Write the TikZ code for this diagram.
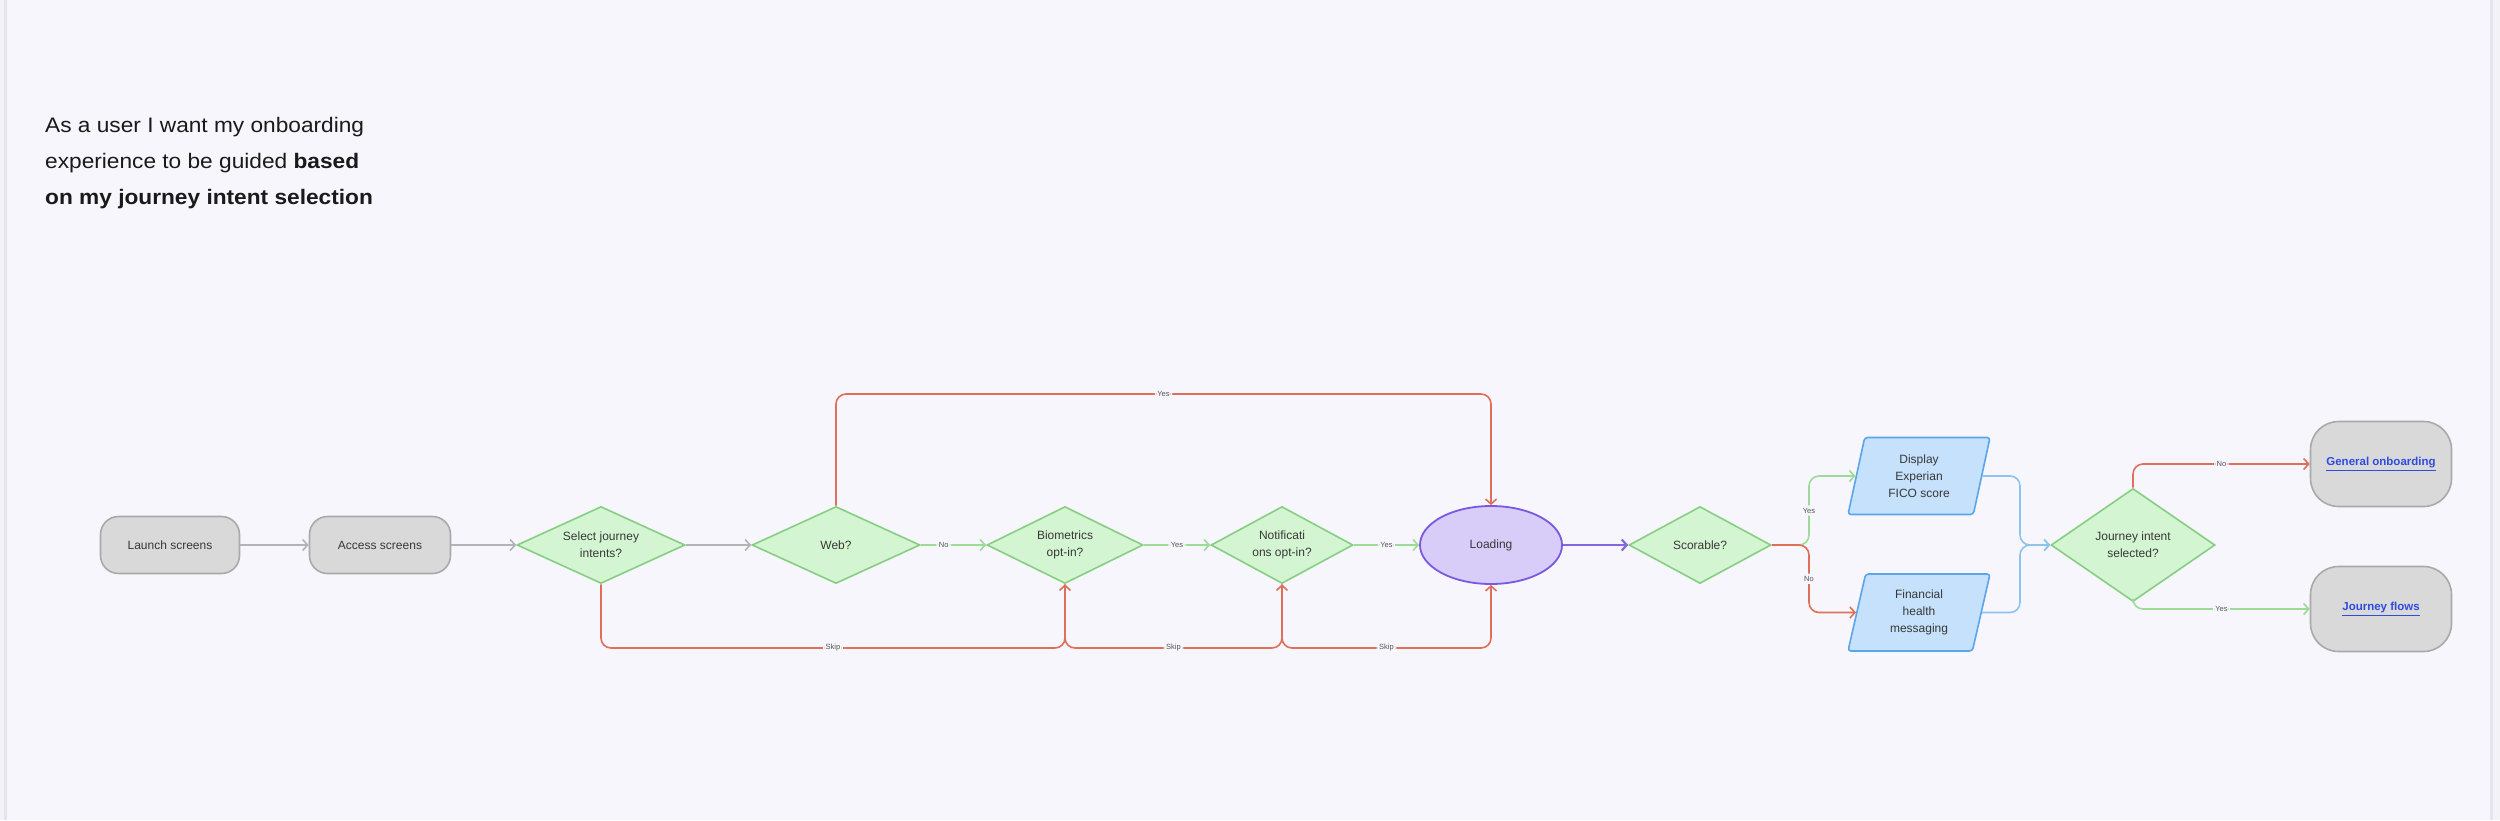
\documentclass[tikz,border=0pt]{standalone}
\usepackage{fontspec}
\setmainfont{Liberation Sans}
\newfontfamily\titlefont{Liberation Sans}[FakeStretch=1.08]
\usetikzlibrary{shapes.geometric,arrows.meta,calc}
\definecolor{bg}{HTML}{F7F6FC}
\definecolor{outbg}{HTML}{F3F3F7}
\definecolor{framecol}{HTML}{E6E4F0}
\definecolor{txt}{HTML}{383838}
\definecolor{titletxt}{HTML}{1A1A1A}
\definecolor{labtxt}{HTML}{555555}
\definecolor{termfill}{HTML}{D9D9D9}
\definecolor{termline}{HTML}{A9A9A9}
\definecolor{decfill}{HTML}{D4F5D2}
\definecolor{decline}{HTML}{86CE82}
\definecolor{loadfill}{HTML}{D8CCF9}
\definecolor{loadline}{HTML}{7B58E0}
\definecolor{iofill}{HTML}{C5E1FB}
\definecolor{ioline}{HTML}{5AA6E8}
\definecolor{cgray}{HTML}{B3B3B6}
\definecolor{cgreen}{HTML}{9CDA98}
\definecolor{cred}{HTML}{DE6F5A}
\definecolor{cblue}{HTML}{8EC3EE}
\definecolor{cpurple}{HTML}{8468E0}
\definecolor{linkcol}{HTML}{2F4BE0}
\begin{document}
\begin{tikzpicture}[x=1pt,y=-1pt,
  nodefont/.style={font=\fontsize{12}{17}\selectfont, text=txt, align=center},
  term/.style={nodefont, draw=termline, fill=termfill, line width=1.6pt,
    rounded corners=18pt, minimum width=139pt, minimum height=57pt, inner sep=0pt},
  endterm/.style={term, rounded corners=28pt, minimum width=141pt, minimum height=85pt},
  dec/.style={nodefont, diamond, shape aspect=2.2, draw=decline, fill=decfill, line width=1.6pt,
    inner sep=0pt, minimum height=77pt},
  io/.style={nodefont, trapezium, trapezium left angle=68.7, trapezium right angle=111.3,
    trapezium stretches body, minimum width=142pt, minimum height=77pt, inner sep=0pt,
    draw=ioline, fill=iofill, line width=1.6pt, rounded corners=3pt},
  flow/.style={line width=1.6pt, rounded corners=10pt,
    -{Straight Barb[length=5pt,width=11pt]}},
  lab/.style={fill=bg, inner sep=2.5pt, font=\fontsize{7.5}{9}\selectfont, text=labtxt},
  linktext/.style={font=\fontsize{11.5}{14}\selectfont\bfseries, text=linkcol}
]
\useasboundingbox (0,0) rectangle (2500,820);
\fill[outbg] (0,0) rectangle (2500,820);
\fill[bg] (5,0) rectangle (2491,820);
\draw[framecol, line width=3pt] (5.5,0) -- (5.5,820);
\draw[framecol, line width=3pt] (2491,0) -- (2491,820);

\node[anchor=north west, inner sep=0pt, align=left, text=titletxt,
  font=\titlefont\fontsize{21}{35.7}\selectfont] (title) at (45,117.5)
  {As a user I want my onboarding\\experience to be guided \textbf{based}\\\textbf{on my journey intent selection}};

\node[term] (launch) at (170,545) {Launch screens};
\node[term, minimum width=141pt] (access) at (380,545) {Access screens};
\node[dec, minimum width=168pt] (select) at (601,545) {Select journey\\intents?};
\node[dec, minimum width=168pt] (web) at (836,545) {Web?};
\node[dec, minimum width=156pt] (bio) at (1065,545) {Biometrics\\opt-in?};
\node[dec, minimum width=142pt] (notif) at (1282,545) {Notificati\\ons opt-in?};
\node[nodefont, ellipse, draw=loadline, fill=loadfill, line width=1.8pt, inner sep=0pt,
  minimum width=142pt, minimum height=78pt] (load) at (1491,545) {Loading};
\node[dec, minimum width=142pt] (score) at (1700,545) {Scorable?};
\node[io] (disp) at (1919,476) {Display\\Experian\\FICO score};
\node[io] (fin) at (1919,612.5) {Financial\\health\\messaging};
\node[dec, shape aspect=1.45, minimum width=164pt, minimum height=113pt] (jis) at (2133,545) {Journey intent\\selected?};
\node[endterm, linktext] (gen) at (2381,464) {\underline{General onboarding}};
\node[endterm, linktext] (jf) at (2381,609) {\underline{Journey flows}};

\draw[flow, cgray] (launch) -- (access);
\draw[flow, cgray] (access) -- (select);
\draw[flow, cgray] (select) -- (web);
\draw[flow, cgreen] (web) -- node[lab, pos=0.35] {No} (bio);
\draw[flow, cgreen] (bio) -- node[lab] {Yes} (notif);
\draw[flow, cgreen] (notif) -- node[lab] {Yes} (load);

\draw[flow, cred] (web.north) -- (web.north |- 0,394) -- node[lab] {Yes} (load.north |- 0,394) -- (load.north);

\draw[flow, cred] (select.south) -- (select.south |- 0,648) -- node[lab] {Skip} (bio.south |- 0,648) -- (bio.south);
\draw[flow, cred] (bio.south) -- (bio.south |- 0,648) -- node[lab] {Skip} (notif.south |- 0,648) -- (notif.south);
\draw[flow, cred] (notif.south) -- (notif.south |- 0,648) -- node[lab] {Skip} (load.south |- 0,648) -- (load.south);

\draw[flow, cpurple, line width=2.2pt] (load) -- (score);

\draw[flow, cgreen] (score.east) -- (1809,545) -- node[lab] {Yes} (1809,0 |- disp.west) -- (disp.west);
\draw[flow, cred] (score.east) -- (1809,545) -- node[lab] {No} (1809,0 |- fin.west) -- (fin.west);

\draw[flow, cblue] (disp.east) -- (2020,0 |- disp.east) -- (2020,0 |- jis.west) -- (jis.west);
\draw[flow, cblue] (fin.east) -- (2020,0 |- fin.east) -- (2020,0 |- jis.west) -- (jis.west);

\draw[flow, cred] (jis.north) -- (jis.north |- gen.west) -- node[lab] {No} (gen.west);
\draw[flow, cgreen] (jis.south) -- (jis.south |- jf.west) -- node[lab] {Yes} (jf.west);
\end{tikzpicture}
\end{document}
